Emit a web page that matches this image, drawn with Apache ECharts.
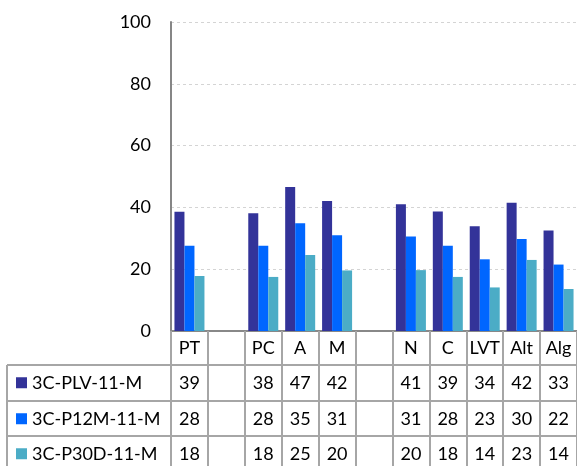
<!DOCTYPE html>
<html>
<head>
<meta charset="utf-8">
<script src="https://cdn.jsdelivr.net/npm/echarts@6/dist/echarts.min.js"></script>
<style>
  html, body { margin: 0; padding: 0; background: #fff; }
  #chart { width: 577px; height: 466px; }
</style>
</head>
<body>
<div id="chart"></div>
<script>
// categories (blank columns are spacer groups)
const categories = ['PT', ' ', 'PC', 'A', 'M', '  ', 'N', 'C', 'LVT', 'Alt', 'Alg']
const seriesNames = ['3C-PLV-11-M', '3C-P12M-11-M', '3C-P30D-11-M']
const plv = [38.6, null, 38.1, 46.6, 42.1, null, 41.0, 38.7, 33.9, 41.5, 32.5]
const p12m = [27.6, null, 27.6, 34.9, 31.0, null, 30.6, 27.6, 23.2, 29.8, 21.5]
const p30d = [17.8, null, 17.5, 24.6, 19.6, null, 19.7, 17.5, 14.1, 23.0, 13.6]
const yTicks = [0, 20, 40, 60, 80, 100]

const COLORS = ['#333399', '#0066FF', '#4BACC6']
const FONT = 'Lato'
const LINE = '#a6a6a6'

const GRID = { left: 171, top: 22, width: 407, height: 309 }
const ROW_TOPS = [365, 401, 436]
const ROW_H = 35.5

const chart = echarts.init(document.getElementById('chart'), null, { renderer: 'canvas' })

const values = [plv, p12m, p30d]

chart.setOption({
  animation: false,
  backgroundColor: '#fff',
  grid: GRID,
  xAxis: {
    type: 'category',
    data: categories,
    axisLine: { lineStyle: { color: '#888', width: 2 } },
    axisTick: { show: true, length: 135, lineStyle: { color: LINE, width: 2 } },
    axisLabel: {
      interval: 0,
      margin: 17,
      verticalAlign: 'middle',
      fontSize: 18,
      fontFamily: FONT,
      color: '#000',
    },
  },
  yAxis: {
    type: 'value',
    min: yTicks[0],
    max: yTicks[yTicks.length - 1],
    interval: 20,
    axisLine: { show: true, lineStyle: { color: '#868686', width: 2 } },
    axisTick: { show: false },
    splitLine: { lineStyle: { type: [3, 3], color: '#d4d4d4', width: 1 } },
    axisLabel: { margin: 20, fontSize: 18, fontFamily: FONT, color: '#000' },
  },
  series: values.map((v, i) => ({
    name: seriesNames[i],
    type: 'bar',
    data: v,
    barWidth: 10,
    barGap: '0%',
    itemStyle: { color: COLORS[i] },
  })),
})

// data table under the axis
const graphics = []
const tableLeft = 7
const tableRight = 577
ROW_TOPS.forEach((y) => {
  graphics.push({
    type: 'line',
    shape: { x1: tableLeft, y1: y, x2: tableRight, y2: y },
    style: { stroke: LINE, lineWidth: 2 },
  })
})
graphics.push({
  type: 'line',
  shape: { x1: tableLeft, y1: ROW_TOPS[0], x2: tableLeft, y2: 466 },
  style: { stroke: LINE, lineWidth: 2 },
})

values.forEach((v, r) => {
  const cy = ROW_TOPS[r] + ROW_H / 2
  graphics.push({
    type: 'rect',
    shape: { x: 16, y: cy - 5.5, width: 11, height: 11 },
    style: { fill: COLORS[r] },
  })
  graphics.push({
    type: 'text',
    x: 32,
    y: cy,
    style: {
      text: seriesNames[r],
      fontSize: 18,
      fontFamily: FONT,
      fill: '#000',
      verticalAlign: 'middle',
    },
  })
  v.forEach((val, i) => {
    if (val == null) return
    const cx = chart.convertToPixel({ xAxisIndex: 0 }, categories[i])
    graphics.push({
      type: 'text',
      x: cx,
      y: cy,
      style: {
        text: String(Math.round(val)),
        fontSize: 18,
        fontFamily: FONT,
        fill: '#000',
        align: 'center',
        verticalAlign: 'middle',
      },
    })
  })
})

chart.setOption({ graphic: graphics })
</script>
</body>
</html>
